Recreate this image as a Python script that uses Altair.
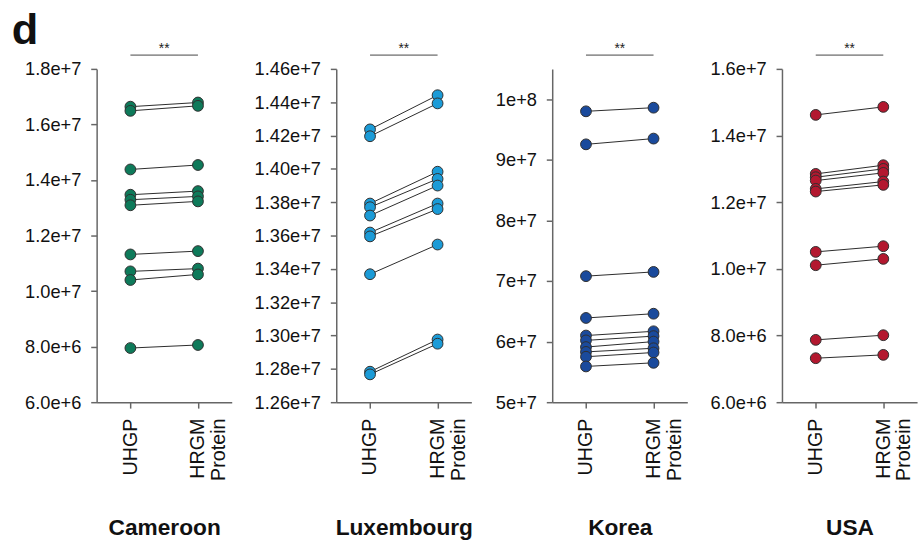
import altair as alt
import pandas as pd

groups = ["UHGP", "HRGM Protein"]
countries = ["Cameroon", "Luxembourg", "Korea", "USA"]
colors = ["#0e7a5a", "#1b9bd7", "#1a4a9c", "#b3182f"]

# values in millions
cam_uhgp = [16.64, 16.49, 14.38, 13.47, 13.29, 13.09, 11.32, 10.71, 10.40, 7.95]
cam_hrgm = [16.79, 16.67, 14.54, 13.60, 13.41, 13.23, 11.44, 10.81, 10.60, 8.06]
lux_uhgp = [14.237, 14.196, 13.792, 13.770, 13.720, 13.618, 13.595, 13.368, 12.783, 12.767]
lux_hrgm = [14.442, 14.393, 13.983, 13.940, 13.900, 13.792, 13.759, 13.546, 12.976, 12.951]
kor_uhgp = [98.0, 92.55, 70.8, 63.9, 61.0, 60.2, 59.1, 58.3, 57.5, 55.9]
kor_hrgm = [98.6, 93.5, 71.5, 64.6, 61.7, 60.9, 60.0, 58.9, 58.2, 56.5]
usa_uhgp = [14.62, 12.85, 12.75, 12.65, 12.40, 12.32, 10.51, 10.11, 7.87, 7.32]
usa_hrgm = [14.86, 13.11, 13.00, 12.88, 12.62, 12.52, 10.68, 10.30, 8.01, 7.42]

domains = [[6e6, 1.8e7], [1.26e7, 1.46e7], [5e7, 1.05e8], [6e6, 1.6e7]]
ticks = [
    [6e6, 8e6, 1e7, 1.2e7, 1.4e7, 1.6e7, 1.8e7],
    [1.26e7, 1.28e7, 1.30e7, 1.32e7, 1.34e7, 1.36e7, 1.38e7, 1.40e7, 1.42e7, 1.44e7, 1.46e7],
    [5e7, 6e7, 7e7, 8e7, 9e7, 1e8],
    [6e6, 8e6, 1e7, 1.2e7, 1.4e7, 1.6e7],
]
formats = [".1e", ".2e", ".0e", ".1e"]
significance = ["**", "**", "**", "**"]
series = [(cam_uhgp, cam_hrgm), (lux_uhgp, lux_hrgm), (kor_uhgp, kor_hrgm), (usa_uhgp, usa_hrgm)]

W, H = 137, 338


def panel(i):
    u, h = series[i]
    df = pd.DataFrame({
        "sample": list(range(len(u))) * 2,
        "group": [groups[0]] * len(u) + [groups[1]] * len(h),
        "value": [v * 1e6 for v in u] + [v * 1e6 for v in h],
    })
    xaxis = alt.Axis(
        title=countries[i], labelAngle=270, labelAlign="right", labelBaseline="middle",
        labelExpr="datum.value == 'HRGM Protein' ? ['HRGM', 'Protein'] : datum.value",
    )
    xscale = alt.Scale(type="point", padding=0.5, domain=groups)
    x = alt.X("group:N", scale=xscale, axis=xaxis)
    y = alt.Y("value:Q", scale=alt.Scale(domain=domains[i], nice=False, zero=False),
              axis=alt.Axis(values=ticks[i], format=formats[i], title=None))
    lines = alt.Chart(df).mark_line(color="#2a2a2a", strokeWidth=1).encode(
        x=x, y=y, detail="sample:N")
    points = alt.Chart(df).mark_circle(
        size=120, color=colors[i], opacity=1, stroke="#2f2f2f", strokeWidth=1
    ).encode(x=x, y=y)
    br = pd.DataFrame({"a": [groups[0]], "b": [groups[1]], "sig": [significance[i]]})
    bracket = alt.Chart(br).mark_rule(color="#444", strokeWidth=1).encode(
        x=alt.X("a:N", scale=xscale, axis=xaxis), x2="b:N", y=alt.value(-14))
    star = alt.Chart(br).mark_text(fontSize=14, color="#222", baseline="alphabetic").encode(
        text="sig:N", x=alt.value(W / 2), y=alt.value(-16))
    layers = [lines, points, bracket, star]
    if i == 0:
        lab = alt.Chart(pd.DataFrame({"t": ["d"]})).mark_text(
            fontSize=44, fontWeight="bold", align="left", baseline="alphabetic", color="#111"
        ).encode(text="t:N", x=alt.value(-86), y=alt.value(-25))
        layers.append(lab)
    return alt.layer(*layers).properties(width=W, height=H)


chart = alt.hconcat(*[panel(i) for i in range(4)], spacing=22).properties(
    padding={"left": 12, "top": 6, "right": 5, "bottom": 5}
).configure_view(stroke=None).configure_axis(
    labelFont="Liberation Sans", titleFont="Liberation Sans", domainColor="#666",
    tickColor="#666", labelColor="#111", titleColor="#111", grid=False,
    domainWidth=1.5, tickWidth=1.5, tickSize=6,
).configure_axisY(
    labelFontSize=18.5, labelPadding=10,
).configure_axisX(
    labelFontSize=20, labelPadding=10, labelLineHeight=21,
    titleFontSize=23, titleFontWeight="bold", titlePadding=37,
).configure_text(font="Liberation Sans")

chart.save("out.html", embed_options={"renderer": "svg", "actions": False})
